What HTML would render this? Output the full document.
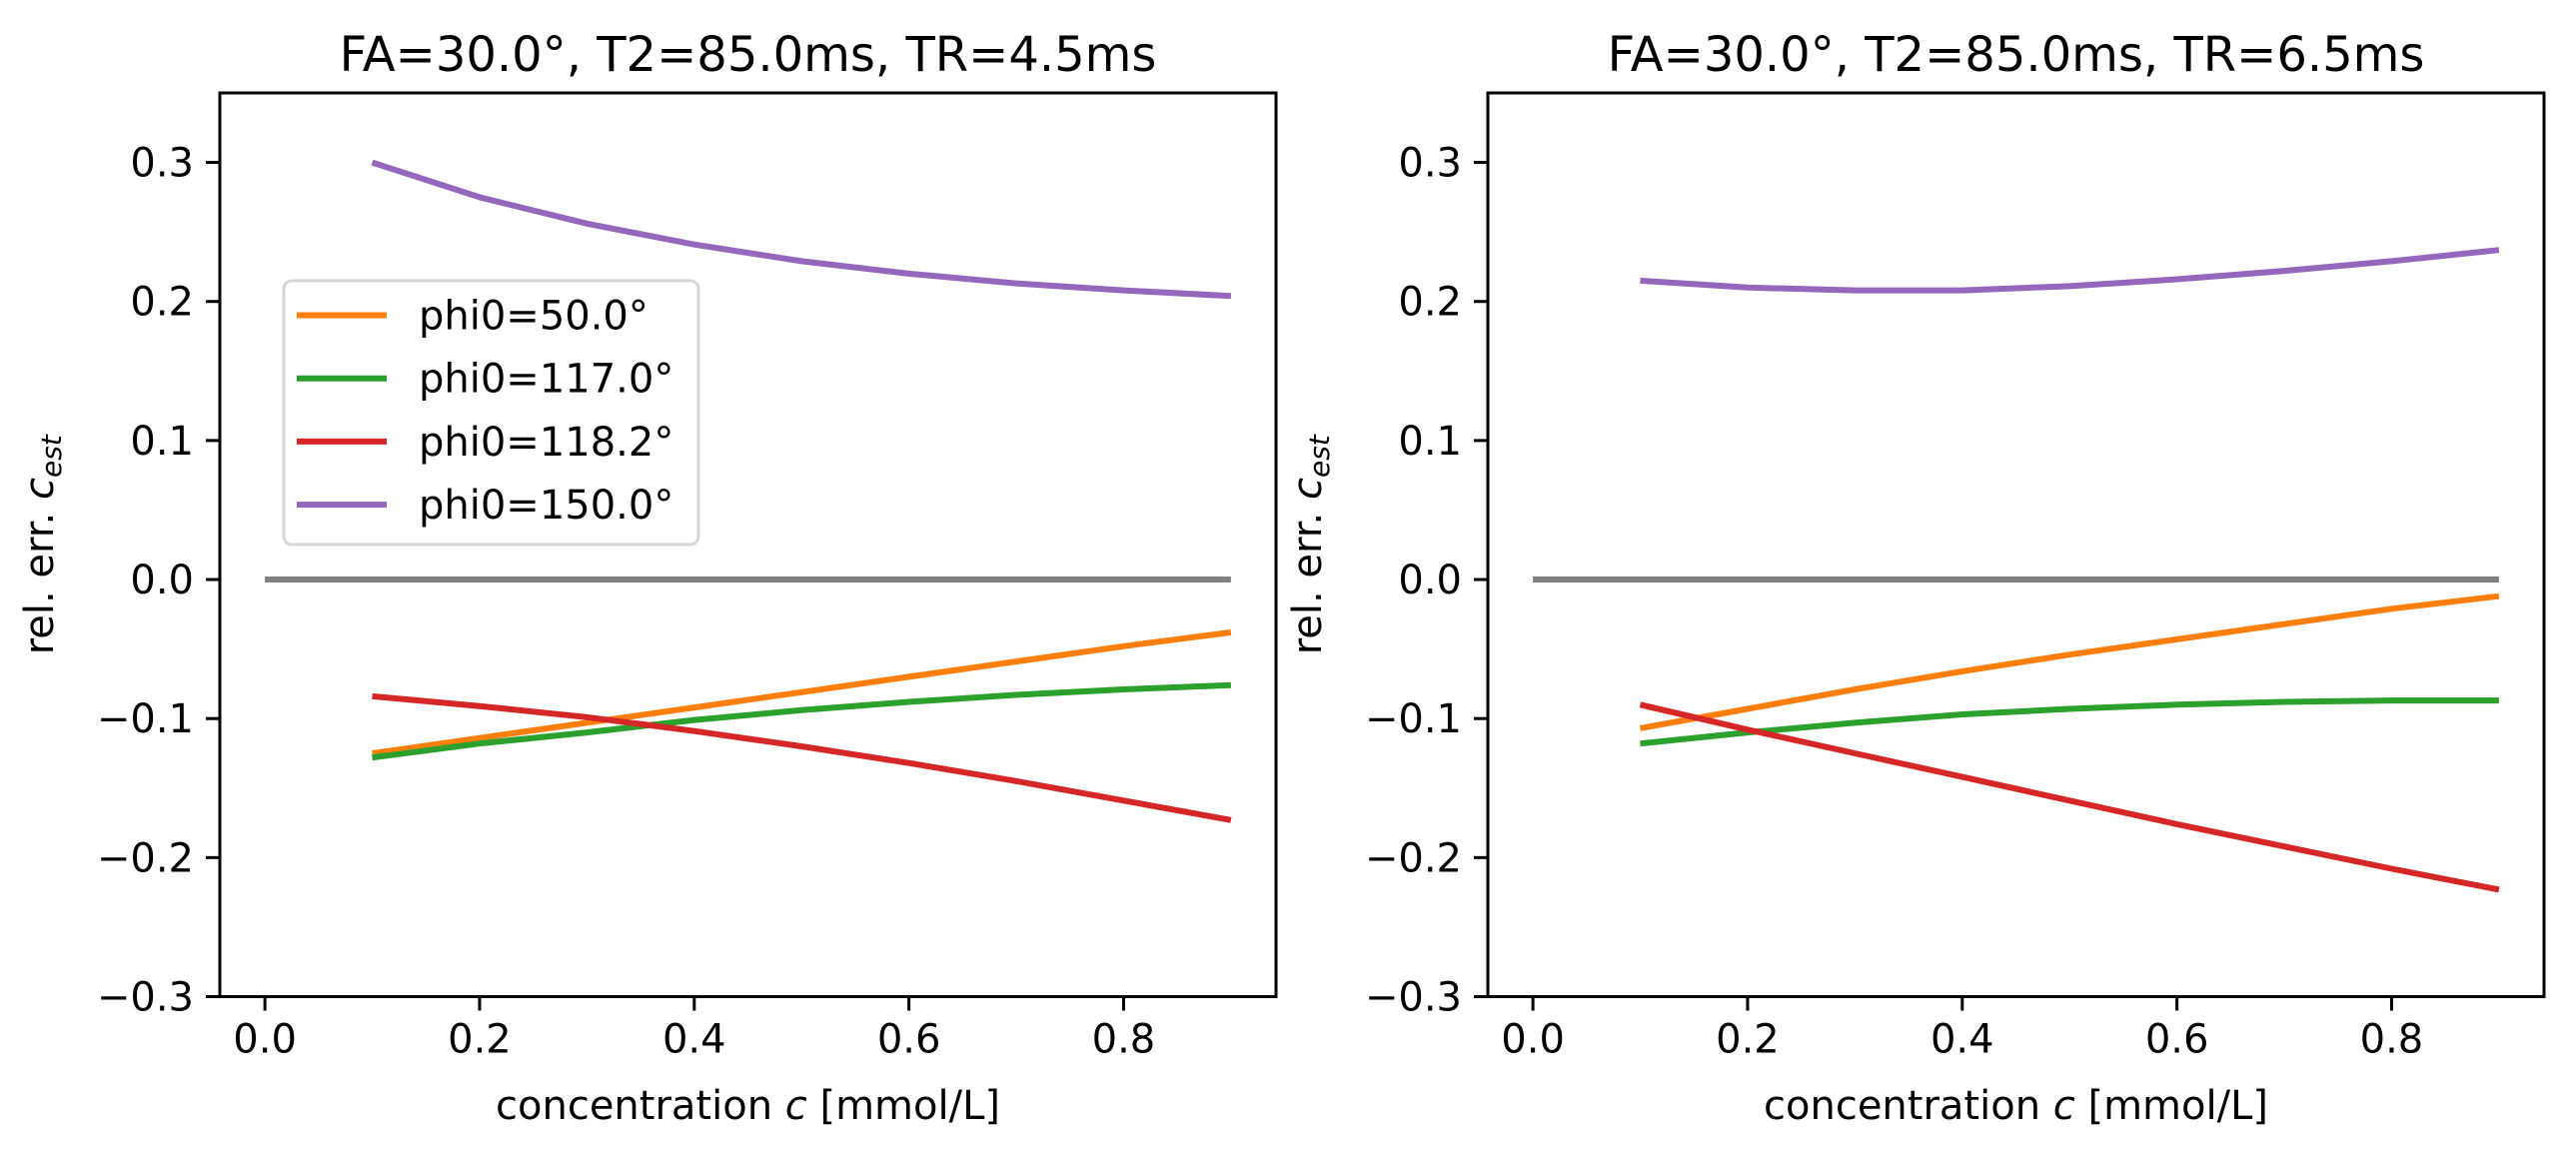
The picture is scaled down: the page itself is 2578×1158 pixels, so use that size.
<!DOCTYPE html>
<html><head><meta charset="utf-8"><style>
body{margin:0;background:#fff}
svg{display:block;font-family:"DejaVu Sans","Liberation Sans",sans-serif}
</style></head><body>
<svg id="fig" width="2578" height="1158" viewBox="0 0 2578 1158" xmlns="http://www.w3.org/2000/svg"></svg>
<script>
const xVals=[0.1,0.2,0.3,0.4,0.5,0.6,0.7,0.8,0.9];
const seriesNames=["phi0=50.0°","phi0=117.0°","phi0=118.2°","phi0=150.0°"];
const seriesColors=["#ff7f0e","#2ca02c","#d62728","#9467bd"];
const leftOrange=[-0.125,-0.114,-0.103,-0.092,-0.081,-0.070,-0.059,-0.048,-0.038];
const leftGreen=[-0.128,-0.118,-0.110,-0.101,-0.094,-0.088,-0.083,-0.079,-0.076];
const leftRed=[-0.084,-0.091,-0.099,-0.109,-0.120,-0.132,-0.145,-0.159,-0.173];
const leftPurple=[0.300,0.275,0.256,0.241,0.229,0.220,0.213,0.208,0.204];
const rightOrange=[-0.107,-0.093,-0.079,-0.066,-0.054,-0.043,-0.032,-0.021,-0.012];
const rightGreen=[-0.118,-0.110,-0.103,-0.097,-0.093,-0.090,-0.088,-0.087,-0.087];
const rightRed=[-0.090,-0.108,-0.125,-0.142,-0.159,-0.176,-0.192,-0.208,-0.223];
const rightPurple=[0.215,0.210,0.208,0.208,0.211,0.216,0.222,0.229,0.237];
const zeroLineX=[0.0,0.9];
const xTicks=[0.0,0.2,0.4,0.6,0.8];
const xTickLabels=["0.0","0.2","0.4","0.6","0.8"];
const yTicks=[-0.3,-0.2,-0.1,0.0,0.1,0.2,0.3];
const yTickLabels=["−0.3","−0.2","−0.1","0.0","0.1","0.2","0.3"];
const titles=["FA=30.0°, T2=85.0ms, TR=4.5ms","FA=30.0°, T2=85.0ms, TR=6.5ms"];

const NS="http://www.w3.org/2000/svg";
const svgEl=document.getElementById('fig');
function mk(tag,attrs,parent){const e=document.createElementNS(NS,tag);for(const k in attrs)e.setAttribute(k,attrs[k]);(parent||svgEl).appendChild(e);return e;}

const panels=[
 {left:220,series:[leftOrange,leftGreen,leftRed,leftPurple],legend:true,name:'left'},
 {left:1489,series:[rightOrange,rightGreen,rightRed,rightPurple],legend:false,name:'right'}
];
const axW=1057,axTop=93,axBottom=997.5;
const xmin=-0.042,xmax=0.942,ymin=-0.3,ymax=0.35;

panels.forEach((p,pi)=>{
  const g=mk('g',{});
  
  
  const X=v=>p.left+(v-xmin)/(xmax-xmin)*axW;
  const Y=v=>axBottom-(v-ymin)/(ymax-ymin)*(axBottom-axTop);
  const z=mk('line',{x1:X(zeroLineX[0]),x2:X(zeroLineX[1]),y1:Y(0),y2:Y(0),stroke:'#808080','stroke-width':6},g);
  
  
  p.series.forEach((s,si)=>{
    const pts=s.map((v,i)=>X(xVals[i]).toFixed(1)+','+Y(v).toFixed(1)).join(' ');
    const pl=mk('polyline',{points:pts,fill:'none',stroke:seriesColors[si],'stroke-width':6,'stroke-linejoin':'round'},g);
    
    
  });
  const fr=mk('rect',{x:p.left,y:axTop,width:axW,height:axBottom-axTop,fill:'none',stroke:'#000','stroke-width':3},g);
  
  
  xTicks.forEach((t,i)=>{
    mk('line',{x1:X(t),x2:X(t),y1:axBottom,y2:axBottom+14,stroke:'#000','stroke-width':3},g);
    const tx=mk('text',{x:X(t),y:axBottom+56,'font-size':40,'text-anchor':'middle'},g);
    tx.textContent=xTickLabels[i];
    
    
  });
  yTicks.forEach((t,i)=>{
    mk('line',{x1:p.left-14,x2:p.left,y1:Y(t),y2:Y(t),stroke:'#000','stroke-width':3},g);
    const tx=mk('text',{x:p.left-26,y:Y(t)+14,'font-size':40,'text-anchor':'end'},g);
    tx.textContent=yTickLabels[i];
    
    
  });
  const ti=mk('text',{x:p.left+axW/2,y:71,'font-size':48,'text-anchor':'middle'},g);
  ti.textContent=titles[pi];
  
  
  const xl=mk('text',{x:p.left+axW/2,y:1120,'font-size':40,'text-anchor':'middle'},g);
  xl.innerHTML='concentration <tspan font-style="italic">c</tspan> [mmol/L]';
  
  
  const cx=p.left-167, cy=(axTop+axBottom)/2;
  const yl=mk('text',{x:cx,y:cy,'font-size':40,'text-anchor':'middle',transform:`rotate(-90 ${cx} ${cy})`},g);
  yl.innerHTML='rel. err. <tspan font-style="italic">c</tspan><tspan font-style="italic" font-size="28" dy="8">est</tspan>';
  
  
  if(p.legend){
    const lg=mk('g',{},g);
    
    
    mk('rect',{x:284,y:281,width:415,height:264,rx:8,fill:'#fff','fill-opacity':0.8,stroke:'#d6d6d6','stroke-width':3},lg);
    seriesNames.forEach((n,i)=>{
      const yy=315.5+i*63.2;
      const e=mk('g',{},lg);
      
      
      mk('line',{x1:297,x2:387,y1:yy,y2:yy,stroke:seriesColors[i],'stroke-width':6},e);
      const t=mk('text',{x:419,y:yy+14,'font-size':40},e);
      t.textContent=n;
    });
  }
});
</script>
</body></html>
